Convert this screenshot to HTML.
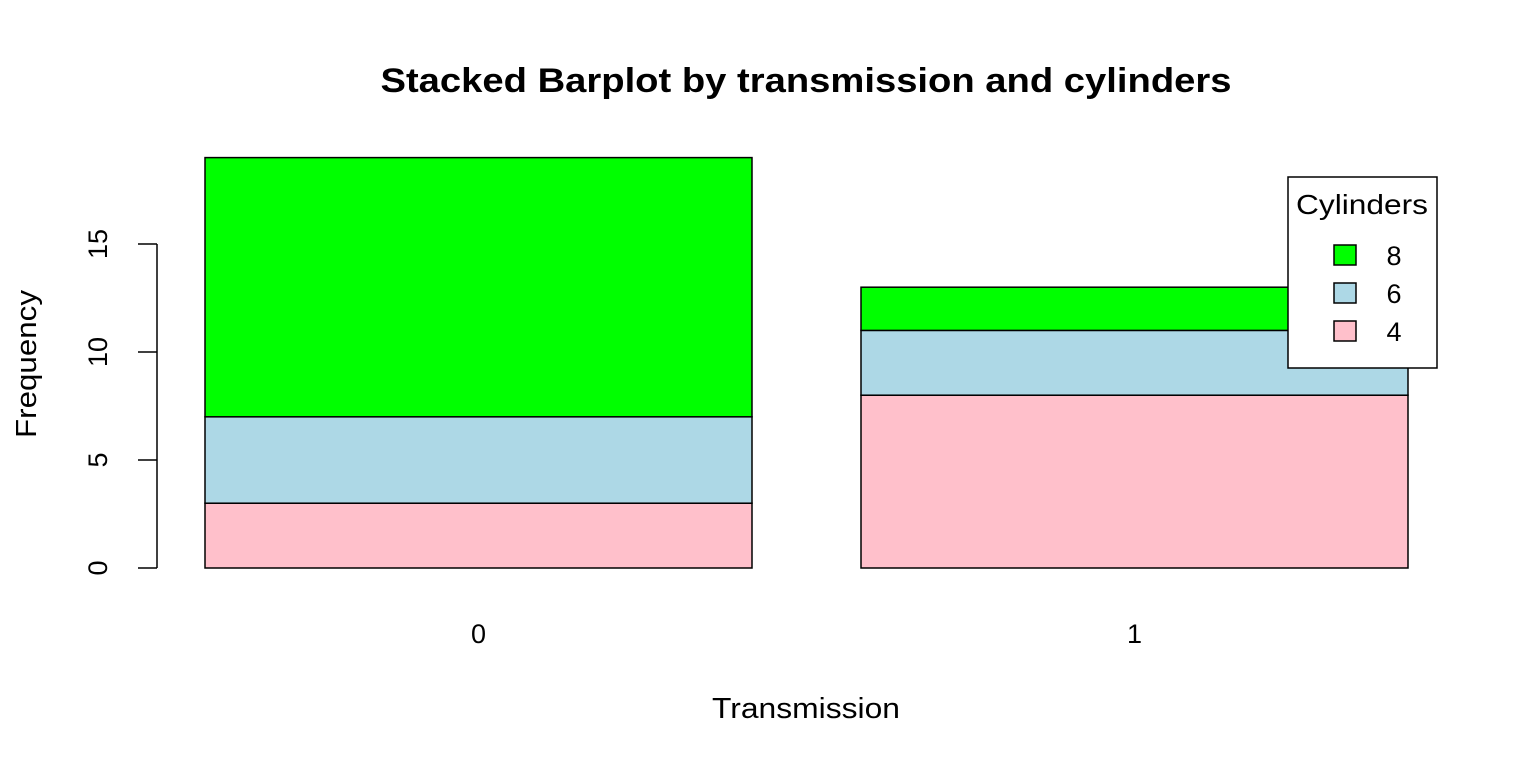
<!DOCTYPE html>
<html><head><meta charset="utf-8"><style>
html,body{margin:0;padding:0;background:#fff;}
svg{display:block;font-family:"Liberation Sans",Arial,sans-serif;}
</style></head><body>
<svg id="chart" width="1536" height="768" viewBox="0 0 1536 768" xmlns="http://www.w3.org/2000/svg">
<text x="806" y="92" font-size="34" font-weight="bold" text-anchor="middle" textLength="851" lengthAdjust="spacingAndGlyphs">Stacked Barplot by transmission and cylinders</text>
<text x="806" y="718" font-size="29" text-anchor="middle" textLength="188" lengthAdjust="spacingAndGlyphs">Transmission</text>
<text x="0" y="0" font-size="29" text-anchor="middle" textLength="148" lengthAdjust="spacingAndGlyphs" transform="translate(36,364) rotate(-90)">Frequency</text>
<g id="bars"></g>
<g id="yaxis"></g>
<g id="xlabels"></g>
<g>
<rect x="1288" y="177" width="149" height="191" fill="#fff" stroke="#000" stroke-width="1.5"/>
<text x="1362" y="214" font-size="28" text-anchor="middle" textLength="132" lengthAdjust="spacingAndGlyphs">Cylinders</text>
<g id="legend-entries"></g>
</g>
</svg>
<script>
const categories=["0","1"];
const cyl4=[3,8];
const cyl6=[4,3];
const cyl8=[12,2];
const yTicks=[0,5,10,15];
const seriesNames=["4","6","8"];
const seriesColors=["#FFC0CB","#ADD8E6","#00FF00"];
const NS="http://www.w3.org/2000/svg";
const y0=568,pxPer=21.6;
function yScale(v){return y0-v*pxPer;}
const barLeft=[205,861],barW=547;
function xScale(i){return barLeft[0]+i*(barLeft[1]-barLeft[0]);}
function mk(tag,attrs,parent){const e=document.createElementNS(NS,tag);for(const k in attrs)e.setAttribute(k,attrs[k]);parent.appendChild(e);return e;}
const bars=document.getElementById('bars');
const series=[cyl4,cyl6,cyl8];
categories.forEach((c,i)=>{
  let cum=0;
  series.forEach((s,j)=>{
    const r=mk('rect',{x:xScale(i),y:yScale(cum+s[i]),width:barW,height:s[i]*pxPer,fill:seriesColors[j],stroke:'#000','stroke-width':1.5},bars);
    
    
    cum+=s[i];
  });
  const t=mk('text',{x:xScale(i)+barW/2,y:643,'font-size':27,'text-anchor':'middle'},document.getElementById('xlabels'));
  t.textContent=c;
  
  
});
const ya=document.getElementById('yaxis');
mk('line',{x1:157,x2:157,y1:yScale(yTicks[0]),y2:yScale(yTicks[yTicks.length-1]),stroke:'#000','stroke-width':1.5},ya);
yTicks.forEach(v=>{
  mk('line',{x1:138,x2:157,y1:yScale(v),y2:yScale(v),stroke:'#000','stroke-width':1.5},ya);
  const t=mk('text',{x:0,y:0,'font-size':27,'text-anchor':'middle',transform:'translate(107,'+yScale(v)+') rotate(-90)'},ya);
  t.textContent=v;
  
  
});
const le=document.getElementById('legend-entries');
[2,1,0].forEach((j,k)=>{
  const cy=255+k*38;
  const g=mk('g',{},le);
  
  
  mk('rect',{x:1334,y:cy-10,width:22,height:20,fill:seriesColors[j],stroke:'#000','stroke-width':1.5},g);
  const t=mk('text',{x:1394,y:cy+10,'font-size':27,'text-anchor':'middle'},g);
  t.textContent=seriesNames[j];
});
</script>
</body></html>
